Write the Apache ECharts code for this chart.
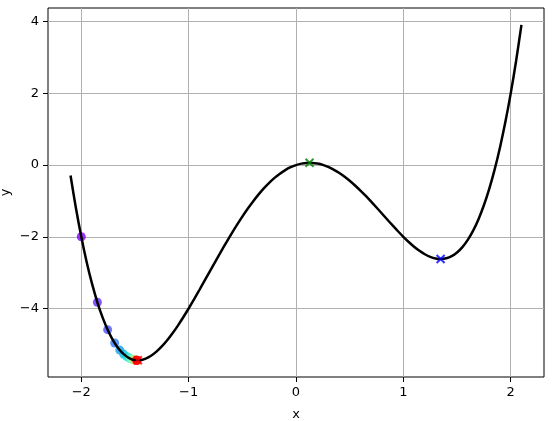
<!DOCTYPE html>
<html>
<head>
<meta charset="utf-8">
<script src="https://cdn.jsdelivr.net/npm/echarts@6/dist/echarts.min.js"></script>
<style>html,body{margin:0;padding:0;background:#fff;}#c{width:552px;height:421px;}</style>
</head>
<body>
<div id="c"></div>
<script>
// Curve samples
const curveX = [-2.10,-2.05,-2.00,-1.95,-1.90,-1.85,-1.80,-1.75,-1.70,-1.65,-1.60,-1.55,-1.50,-1.45,-1.40,-1.35,-1.30,-1.25,-1.20,-1.15,-1.10,-1.05,-1.00,-0.95,-0.90,-0.85,-0.80,-0.75,-0.70,-0.65,-0.60,-0.55,-0.50,-0.45,-0.40,-0.35,-0.30,-0.25,-0.20,-0.15,-0.10,-0.05,0.00,0.05,0.10,0.15,0.20,0.25,0.30,0.35,0.40,0.45,0.50,0.55,0.60,0.65,0.70,0.75,0.80,0.85,0.90,0.95,1.00,1.05,1.10,1.15,1.20,1.25,1.30,1.35,1.40,1.45,1.50,1.55,1.60,1.65,1.70,1.75,1.80,1.85,1.90,1.95,2.00,2.05,2.10];
const curveY = [-0.2919,-1.199,-2.0,-2.701,-3.3079,-3.8265,-4.2624,-4.6211,-4.9079,-5.128,-5.2864,-5.388,-5.4375,-5.4395,-5.3984,-5.3185,-5.2039,-5.0586,-4.8864,-4.691,-4.4759,-4.2445,-4.0,-3.7455,-3.4839,-3.218,-2.9504,-2.6836,-2.4199,-2.1615,-1.9104,-1.6685,-1.4375,-1.219,-1.0144,-0.825,-0.6519,-0.4961,-0.3584,-0.2395,-0.1399,-0.06,0.0,0.04,0.0601,0.0605,0.0416,0.0039,-0.0519,-0.125,-0.2144,-0.319,-0.4375,-0.5685,-0.7104,-0.8615,-1.0199,-1.1836,-1.3504,-1.518,-1.6839,-1.8455,-2.0,-2.1445,-2.2759,-2.391,-2.4864,-2.5586,-2.6039,-2.6185,-2.5984,-2.5395,-2.4375,-2.288,-2.0864,-1.828,-1.5079,-1.1211,-0.6624,-0.1265,0.4921,1.199,2.0,2.901,3.9081];
// Descent path points
const pathX = [-2.0,-1.85,-1.7547,-1.689,-1.6414,-1.6058,-1.5786,-1.5576,-1.541,-1.5279,-1.5175,-1.5091,-1.5024,-1.4969,-1.4925,-1.4889,-1.486,-1.4836,-1.4817,-1.4801];
const pathY = [-2.0,-3.8265,-4.5903,-4.9619,-5.1596,-5.271,-5.3365,-5.3761,-5.4006,-5.416,-5.4258,-5.4322,-5.4363,-5.439,-5.4408,-5.4419,-5.4427,-5.4432,-5.4435,-5.4437];
// Marked extrema
const markX = [0.126, 1.347, -1.473];
const markY = [0.0628, -2.6186, -5.4442];
const markColors = ['#008000', '#0000ff', '#ff0000'];
const xTicks = [-2, -1, 0, 1, 2];
const yTicks = [-4, -2, 0, 2, 4];

function rainbow(t){
  const r = Math.min(1, Math.abs(2*t - 0.5));
  const g = Math.sin(Math.PI*t);
  const b = Math.cos(Math.PI*t/2);
  const h = v => Math.round(Math.max(0,Math.min(1,v))*255);
  return 'rgb(' + h(r) + ',' + h(g) + ',' + h(b) + ')';
}
const fmt = v => (v < 0 ? '\u2212' + Math.abs(v) : String(v));
const font = 'DejaVu Sans';
const chart = echarts.init(document.getElementById('c'), null, {renderer: 'canvas'});
const crossPath = 'path://M0,0L10,10M10,0L0,10';
chart.setOption({
  animation: false,
  backgroundColor: '#fff',
  grid: {left: 48, right: 8, top: 8, bottom: 44, show: true, borderColor: '#000', borderWidth: 1, backgroundColor: 'transparent', containLabel: false, outerBoundsMode: 'none'},
  xAxis: {
    type: 'value', min: -2.31, max: 2.31,
    name: 'x', nameLocation: 'middle', nameGap: 31, nameMoveOverlap: false,
    nameTextStyle: {fontFamily: font, fontSize: 13, color: '#000'},
    axisLine: {show: false, onZero: false},
    axisTick: {show: true, inside: false, length: 5, customValues: xTicks, lineStyle: {color: '#000'}},
    axisLabel: {customValues: xTicks, formatter: fmt, fontFamily: font, fontSize: 13, color: '#000', margin: 9},
    splitLine: {show: true, lineStyle: {color: '#b0b0b0', width: 1}}
  },
  yAxis: {
    type: 'value', min: -5.91, max: 4.38,
    name: 'y', nameLocation: 'middle', nameGap: 36, nameRotate: 90, nameMoveOverlap: false,
    nameTextStyle: {fontFamily: font, fontSize: 13, color: '#000'},
    axisLine: {show: false, onZero: false},
    axisTick: {show: true, inside: false, length: 5, customValues: yTicks, lineStyle: {color: '#000'}},
    axisLabel: {customValues: yTicks, formatter: fmt, fontFamily: font, fontSize: 13, color: '#000', margin: 9},
    splitLine: {show: true, lineStyle: {color: '#b0b0b0', width: 1}}
  },
  series: [
    {
      type: 'scatter', z: 2, symbolSize: 9,
      data: pathX.map((x, i) => ({value: [x, pathY[i]], itemStyle: {color: rainbow(i/(pathX.length-1))}}))
    },
    {
      type: 'line', z: 3, showSymbol: false, smooth: 0.3,
      lineStyle: {color: '#000', width: 2.5},
      data: curveX.map((x, i) => [x, curveY[i]])
    },
    {
      type: 'scatter', z: 4, symbol: crossPath, symbolSize: 8,
      data: markX.map((x, i) => ({value: [x, markY[i]], itemStyle: {color: 'none', borderColor: markColors[i], borderWidth: 2}}))
    }
  ]
});
</script>
</body>
</html>
